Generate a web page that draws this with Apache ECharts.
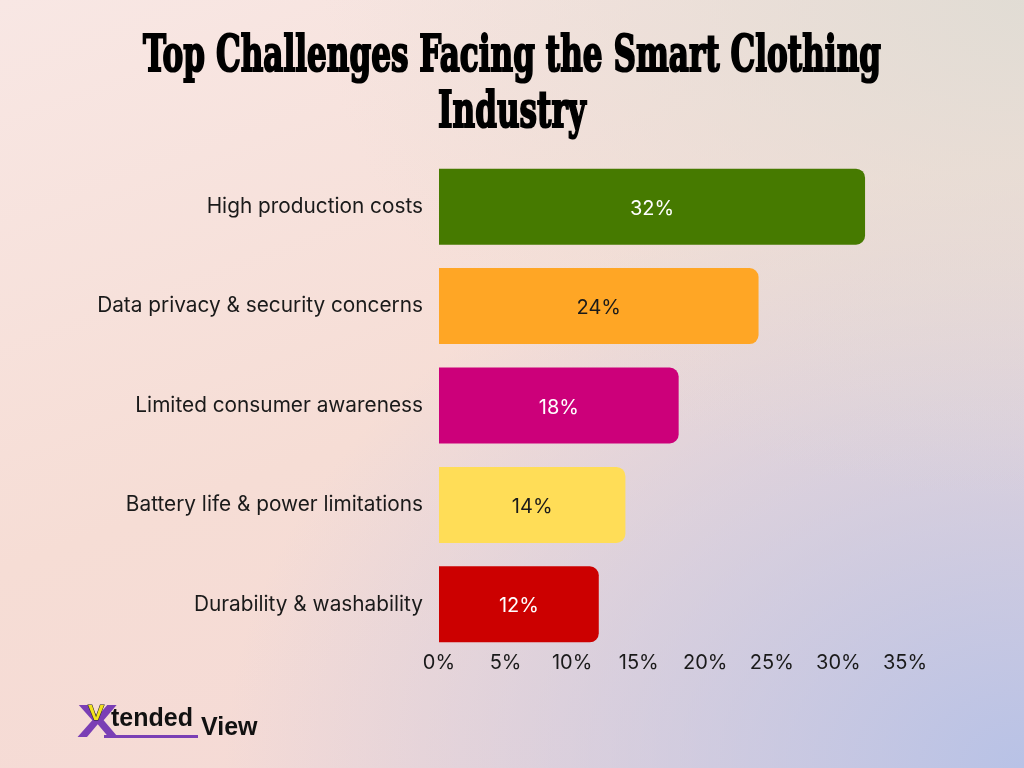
<!DOCTYPE html>
<html>
<head>
<meta charset="utf-8">
<script src="https://cdn.jsdelivr.net/npm/echarts@6/dist/echarts.min.js"></script>
<style>
html,body{margin:0;padding:0;width:1024px;height:768px;overflow:hidden;}
#bg{position:absolute;left:0;top:0;width:1024px;height:768px;
background:
 radial-gradient(ellipse 700px 500px at 100% 0%, rgba(224,220,212,0.95) 0%, rgba(224,220,212,0) 100%),
 radial-gradient(ellipse 800px 600px at 100% 100%, rgba(184,194,230,1) 0%, rgba(184,194,230,0) 100%),
 linear-gradient(160deg, #f8e7e4 0%, #f6ddd5 50%, #f4d8d6 100%);}
#chart{position:absolute;left:0;top:0;width:1024px;height:768px;}
</style>
</head>
<body>
<div id="bg"></div>
<div id="chart"></div>
<script>
const titleLines = ["Top Challenges Facing the Smart Clothing", "Industry"];
const categories = ["High production costs","Data privacy & security concerns","Limited consumer awareness","Battery life & power limitations","Durability & washability"];
const values = [32, 24, 18, 14, 12];
const barColors = ["#467a00","#ffa625","#cc007a","#ffdd57","#cc0000"];
const labelColors = ["#ffffff","#1a1a1a","#ffffff","#1a1a1a","#ffffff"];
const xTicks = [0,5,10,15,20,25,30,35];

// horizontal squeeze for a condensed display-serif look
const titleFont = 'bold 50px "DejaVu Serif"';
const cv = document.createElement('canvas').getContext('2d');
cv.font = titleFont;
const line1W = cv.measureText(titleLines[0]).width;
const sx = 738 / line1W;

const chart = echarts.init(document.getElementById('chart'), null, {renderer:'canvas'});
const option = {
  backgroundColor: 'transparent',
  animation: false,
  grid: {left:439, right:119, top:157, bottom:114, containLabel:false},
  xAxis: {
    type:'value', min:xTicks[0], max:xTicks[xTicks.length-1], interval:5,
    axisLine:{show:false}, axisTick:{show:false}, splitLine:{show:false},
    axisLabel:{formatter:'{value}%', fontFamily:'Inter', fontSize:20, color:'#1a1a1a', margin:-1}
  },
  yAxis: {
    type:'category', data:categories, inverse:true,
    axisLine:{show:false}, axisTick:{show:false},
    axisLabel:{fontFamily:'Inter', fontSize:20.8, color:'#1a1a1a', margin:16}
  },
  series: [{
    type:'bar', barWidth:76,
    data: values.map((v,i)=>({value:v, itemStyle:{color:barColors[i]}, label:{color:labelColors[i]}})),
    itemStyle:{borderRadius:[0,9,9,0]},
    label:{show:true, position:'inside', formatter:'{c}%', fontFamily:'Inter', fontSize:20, offset:[0,2]}
  }],
  graphic: [
    {type:'text', x:512, y:58, scaleX:sx, scaleY:1.02, style:{text:titleLines[0], font:titleFont, fill:'#000', stroke:'#000', lineWidth:2.2, align:'center', verticalAlign:'middle'}},
    {type:'text', x:512, y:114, scaleX:sx, scaleY:1.02, style:{text:titleLines[1], font:titleFont, fill:'#000', stroke:'#000', lineWidth:2.2, align:'center', verticalAlign:'middle'}},
    {type:'group', x:0, y:0, children:[
      {type:'rect', shape:{x:104, y:735, width:94, height:3}, style:{fill:'#7a3fb5'}},
      {type:'text', x:77, y:701, scaleX:1.35, style:{text:'X', font:'bold 46px "Liberation Sans"', fill:'#7a3fb5'}},
      {type:'text', x:88, y:703, scaleX:1.1, style:{text:'V', font:'bold 22px "Liberation Sans"', fill:'#f2e21c', stroke:'#222', lineWidth:1}},
      {type:'text', x:111, y:707, style:{text:'tended', font:'bold 25px "Liberation Sans"', fill:'#111'}},
      {type:'text', x:201, y:716, style:{text:'View', font:'bold 25px "Liberation Sans"', fill:'#111'}}
    ]}
  ]
};
chart.setOption(option);
</script>
</body>
</html>
